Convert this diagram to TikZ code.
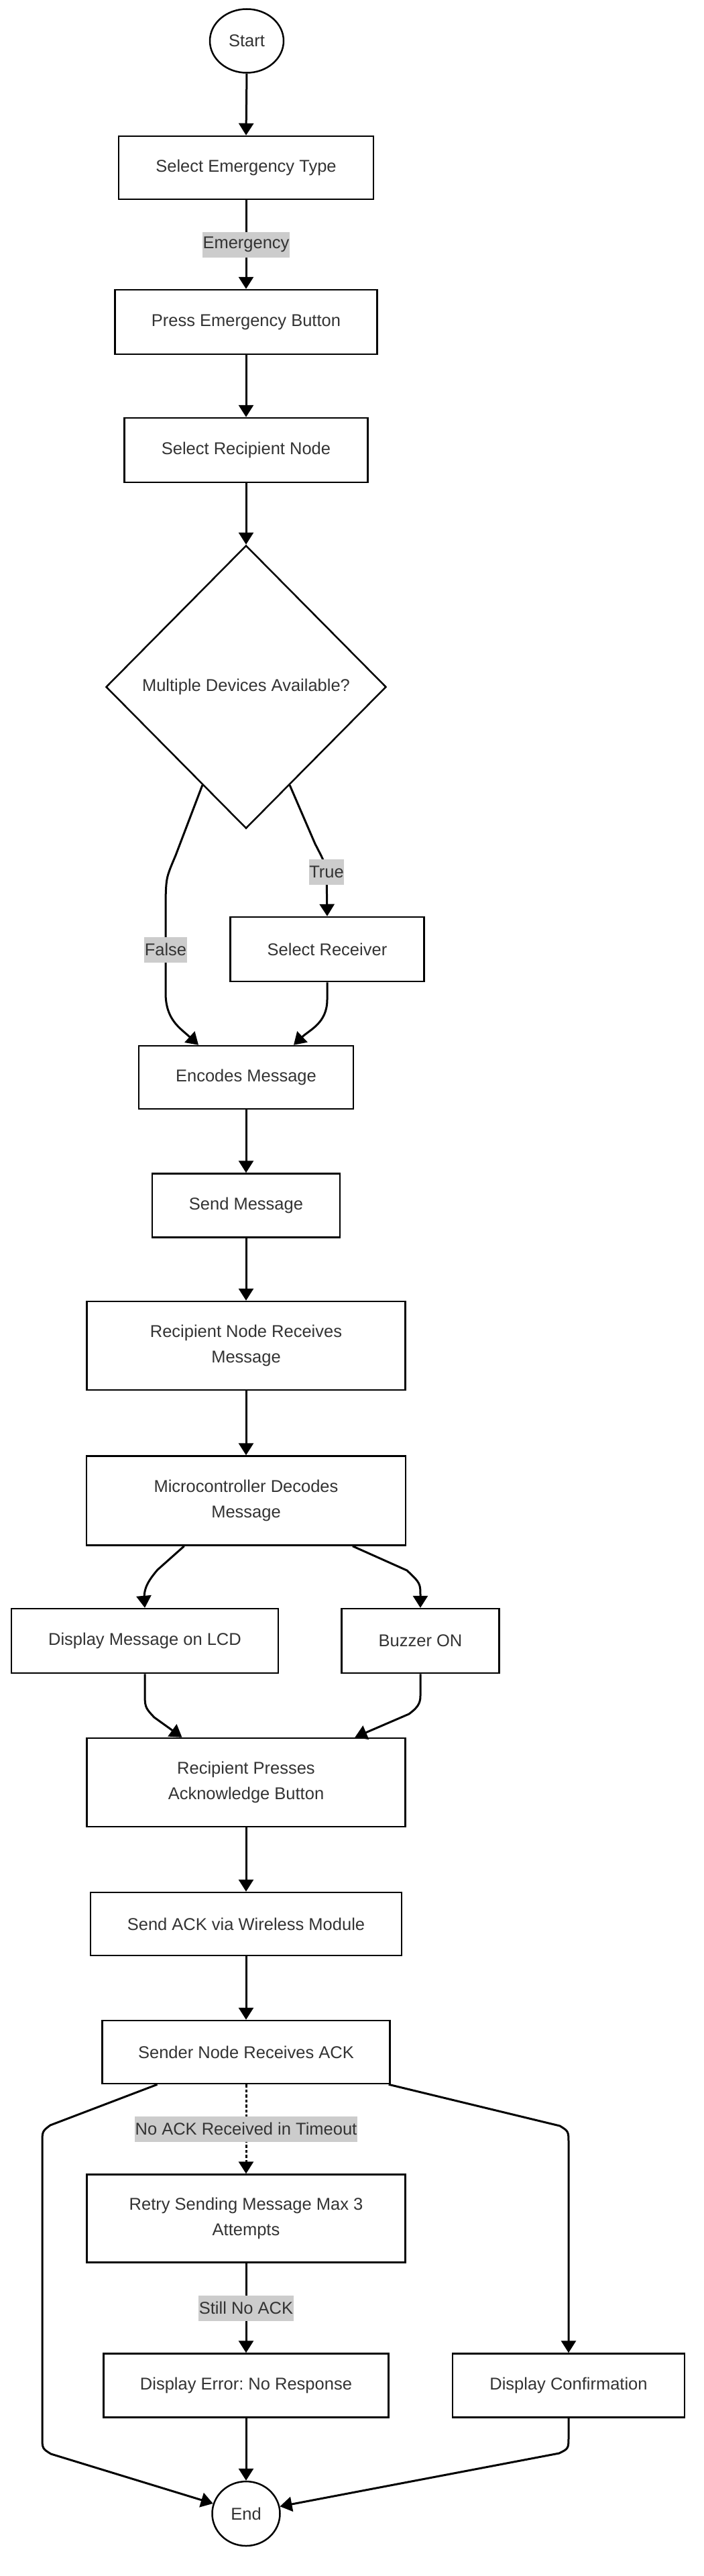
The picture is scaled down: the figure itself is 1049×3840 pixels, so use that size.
\documentclass[tikz,border=0pt]{standalone}
\usepackage{fontspec}
\setmainfont{Liberation Sans}
\usetikzlibrary{shapes.geometric,arrows.meta,calc}
\definecolor{txt}{RGB}{51,51,51}
\definecolor{lbl}{RGB}{204,204,204}
\frenchspacing
\begin{document}
\begin{tikzpicture}[x=1pt,y=-1pt,
  every node/.style={font=\fontsize{25.5}{38}\selectfont, text=txt},
  box/.style={draw=black, line width=2.5pt, fill=white, rectangle, inner sep=0pt, align=center},
  term/.style={draw=black, line width=2.5pt, fill=white, ellipse, inner sep=0pt},
  decision/.style={draw=black, line width=2.5pt, fill=white, diamond, aspect=1, inner sep=0pt},
  edge/.style={line width=3pt, -{Triangle[length=18pt,width=22pt]}},
  dotedge/.style={edge, dash pattern=on 4.5pt off 3pt},
  elabel/.style={fill=lbl, inner xsep=0.5pt, inner ysep=0pt, minimum height=38pt}
]
\fill[white] (0,0) rectangle (1049,3840);
\useasboundingbox (0,0) rectangle (1049,3840);

% nodes
\node[term, minimum width=110pt, minimum height=95pt] (start) at (368,61) {Start};
\node[box, minimum width=380pt, minimum height=94pt] (set) at (367,250) {Select Emergency Type};
\node[box, minimum width=391pt, minimum height=96pt] (peb) at (367,480) {Press Emergency Button};
\node[box, minimum width=363pt, minimum height=96pt] (srn) at (367,671) {Select Recipient Node};
\node[decision, minimum width=418pt, minimum height=422pt] (dec) at (367,1024) {Multiple Devices Available?};
\node[box, minimum width=289pt, minimum height=96pt] (sr) at (488,1415) {Select Receiver};
\node[box, minimum width=320pt, minimum height=94pt] (em) at (367,1606) {Encodes Message};
\node[box, minimum width=280pt, minimum height=95pt] (sm) at (367,1797) {Send Message};
\node[box, minimum width=475pt, minimum height=132pt] (rnr) at (367,2006) {Recipient Node Receives\\Message};
\node[box, minimum width=476pt, minimum height=133pt] (mdm) at (367,2237) {Microcontroller Decodes\\Message};
\node[box, minimum width=398pt, minimum height=96pt] (dml) at (216,2446) {Display Message on LCD};
\node[box, minimum width=235pt, minimum height=96pt] (buz) at (627,2446) {Buzzer ON};
\node[box, minimum width=475pt, minimum height=132pt] (rpab) at (367,2657) {Recipient Presses\\Acknowledge Button};
\node[box, minimum width=464pt, minimum height=94pt] (saw) at (367,2868) {Send ACK via Wireless Module};
\node[box, minimum width=429pt, minimum height=94pt] (snr) at (367,3059) {Sender Node Receives ACK};
\node[box, minimum width=475pt, minimum height=131pt] (rsm) at (367,3307) {Retry Sending Message Max 3\\Attempts};
\node[box, minimum width=425pt, minimum height=95pt] (denr) at (367,3556) {Display Error: No Response};
\node[box, minimum width=346pt, minimum height=95pt] (dc) at (848,3556) {Display Confirmation};
\node[term, minimum width=101pt, minimum height=96pt] (end) at (367,3747) {End};

% connectors
\draw[edge] (start.south) -- (set.north);
\draw[edge] (set.south) -- (peb.north) node[elabel, midway] {Emergency};
\draw[edge] (peb.south) -- (srn.north);
\draw[edge] (srn.south) -- (dec.north);

\draw[edge] ($(dec.west)!0.69!(dec.south)$) -- (262,1275) .. controls (248,1308) .. (247,1340)
  -- (247,1480) node[elabel, pos=0.54] {False}
  .. controls (247,1520) and (268,1532) .. ($(em.north west)!0.28!(em.north east)$);
\draw[edge] ($(dec.east)!0.69!(dec.south)$) -- (470,1258) .. controls (484,1285) .. (487,1300)
  node[elabel, pos=1] {True} -- (sr.north);
\draw[edge] (sr.south) -- (488,1490) .. controls (488,1525) and (462,1535) .. ($(em.north west)!0.72!(em.north east)$);

\draw[edge] (em.south) -- (sm.north);
\draw[edge] (sm.south) -- (rnr.north);
\draw[edge] (rnr.south) -- (mdm.north);

\draw[edge] ($(mdm.south west)!0.307!(mdm.south east)$) -- (235,2340) .. controls (216,2362) and (215,2372) .. (215,2385) -- (dml.north);
\draw[edge] ($(mdm.south west)!0.832!(mdm.south east)$) -- (607,2341) .. controls (627,2360) .. (627,2380) -- (buz.north);

\draw[edge] (dml.south) -- (216,2520) .. controls (216,2545) .. (230,2560) -- ($(rpab.north west)!0.3!(rpab.north east)$);
\draw[edge] (buz.south) -- (627,2528) .. controls (627,2540) and (622,2546) .. (610,2555) -- ($(rpab.north west)!0.84!(rpab.north east)$);

\draw[edge] (rpab.south) -- (saw.north);
\draw[edge] (saw.south) -- (snr.north);

\draw[dotedge] (snr.south) -- (rsm.north) node[elabel, midway] {No ACK Received in Timeout};
\draw[edge] (rsm.south) -- (denr.north) node[elabel, midway] {Still No ACK};

\draw[edge] ($(snr.south west)!0.193!(snr.south east)$) -- (75,3168) .. controls (63,3177) .. (63,3195)
  -- (63,3632) .. controls (63,3650) .. (76,3658) -- (end.163);
\draw[edge] ($(snr.south east)+(-3,0)$) -- (835,3169) .. controls (848,3177) .. (848,3195) -- (dc.north);
\draw[edge] (denr.south) -- (end.north);
\draw[edge] (dc.south) -- (848,3632) .. controls (848,3650) .. (834,3657) -- (end.12);
\end{tikzpicture}
\end{document}
